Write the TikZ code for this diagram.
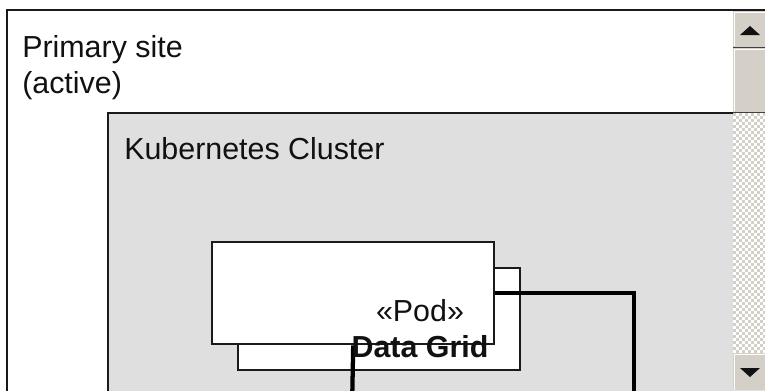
\documentclass[tikz,border=0pt]{standalone}
\usepackage{fontspec}
\setmainfont{Liberation Sans}
\usepackage{xcolor}
\usepackage{tikz}
\usetikzlibrary{positioning, calc}
\definecolor{inkP}{HTML}{111111}
\definecolor{frameK}{HTML}{1A1A1A}
\definecolor{clusterG}{HTML}{DFDFDF}
\definecolor{sbFace}{HTML}{D4D0C8}
\definecolor{sbDark}{HTML}{404040}
\newcommand{\bigtxt}{\fontsize{22.8}{27}\selectfont}
\tikzset{
  frame/.style={draw=frameK, line width=1.8pt},
  podbox/.style={draw=frameK, fill=white, line width=1.8pt, inner sep=0pt,
    minimum width=211.5pt, minimum height=76.5pt},
  link/.style={draw=black, line width=3.2pt},
  lbl/.style={font=\bigtxt, text=inkP, inner sep=0pt, align=left},
  sbbtn/.style={fill=sbFace}
}
\begin{document}
\begin{tikzpicture}[x=0.75pt, y=-0.75pt]
\clip (0,0) rectangle (765,390);
\fill[white] (0,0) rectangle (765,390);
\filldraw[frame, fill=white] (7,10) rectangle (800,430);
\node[lbl, anchor=north west] (site) at (22,35) {Primary site\\(active)};
\filldraw[frame, fill=clusterG] (108,113) rectangle (800,430);
\node[lbl, anchor=north west] (cluster) at (124,137) {Kubernetes Cluster};
\node[podbox, anchor=north west] (podback) at (237,267) {};
\node[podbox, anchor=north west] (podfront) at (211,241) {};
\coordinate (linkA) at (352,410);
\coordinate (linkB) at (634,410);
\draw[link] (podfront.south) -- (linkA);
\draw[link] (podfront.east) -| (linkB);
\node[lbl, align=center, anchor=north] (podname) at (420,299) {«Pod»\\\textbf{Data Grid}};
\fill[sbbtn] (733,11) rectangle (765,47);
\draw[white, line width=0.75pt] (734,46) -- (734,12) -- (765,12);
\draw[sbDark, line width=0.75pt] (733,47) -- (765,47);
\fill[inkP] (750,26) -- (760,35) -- (740,35) -- cycle;
\fill[sbbtn] (733,48) rectangle (765,112);
\draw[white, line width=0.75pt] (734,111) -- (734,49) -- (765,49);
\draw[sbDark, line width=0.75pt] (733,112.5) -- (765,112.5);
\fill[white] (733,113) rectangle (765,353);
\foreach \i in {0,...,10}{
  \foreach \j in {0,...,79}{
    \pgfmathtruncatemacro\chk{mod(\i+\j,2)}
    \ifnum\chk=0 \fill[sbFace] (733+3*\i,113+3*\j) rectangle ++(3,3);\fi
  }
}
\fill[sbbtn] (733,353) rectangle (765,390);
\draw[white, line width=0.75pt] (734,390) -- (734,354) -- (765,354);
\fill[inkP] (740,368) -- (760,368) -- (750,377) -- cycle;
\end{tikzpicture}
\end{document}
